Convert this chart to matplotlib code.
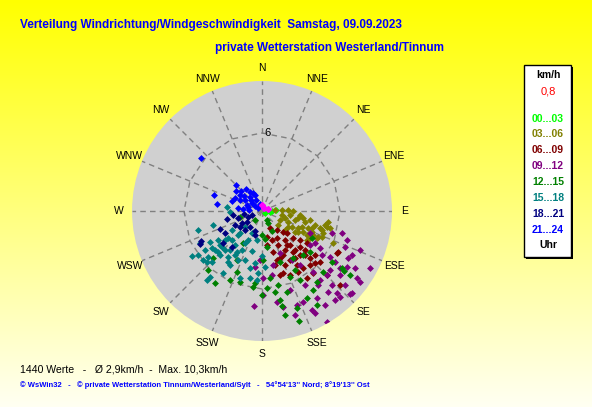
import numpy as np
import matplotlib
matplotlib.use("Agg")
import matplotlib.pyplot as plt

# wind direction (deg, clockwise from N) and speed (km/h), per 3-hour block
dir_00_03 = [80, 88, 86, 120, 95]
spd_00_03 = [0.5, 0.8, 1.1, 0.3, 0.6]

dir_03_06 = [85.6, 87, 87.8, 90, 101, 107, 113, 105, 101, 99.7, 104.3, 111.8, 115.3, 122.5,
             118, 121.6, 110.3, 112.8, 115.2, 114.9, 109.8, 102.5, 99.5, 103.8, 104, 106.3,
             116.1, 119.4, 118.1, 117.1, 116.6, 131.2, 129.6, 113.4, 122.8, 114.3, 100.6,
             96, 104.8, 98.1, 120.3, 107.6, 108.8]
spd_03_06 = [1.0, 1.54, 2.0, 2.4, 1.57, 1.85, 2.17, 2.63, 2.82, 3.2, 3.41, 3.31, 3.06, 3.0,
             2.6, 2.35, 3.77, 4.17, 4.34, 4.75, 4.99, 4.96, 5.15, 5.15, 5.39, 4.65,
             4.71, 4.24, 3.92, 3.54, 1.55, 1.63, 2.29, 5.03, 4.12, 6.0, 3.76,
             2.94, 4.22, 2.18, 3.2, 4.84, 4.06]

dir_06_09 = [154.8, 150.9, 135, 143.7, 142.9, 127.3, 125.4, 134.4, 134.5, 131.3, 134.6, 118.3,
             133.5, 144.3, 147, 159, 165, 171.6, 156.4, 164.3, 146.1, 131, 141.7, 131.3,
             163, 161.3, 140.6, 119.2, 133.5, 169, 144.9, 149.5, 166.5, 135.7,
             141.6, 140.5, 139.8, 139.2, 150.3, 154.5, 154.8, 138.4, 149.5, 156.9, 161, 132.2, 129.7]
spd_06_09 = [1.45, 2.4, 2.3, 3.25, 3.95, 3.68, 4.25, 5.17, 5.7, 5.94, 7.0, 6.6,
             8.3, 5.4, 4.95, 3.87, 3.26, 2.64, 5.4, 5.1, 6.2, 3.16, 1.86, 2.56,
             3.94, 5.0, 6.2, 6.6, 4.0, 2.0, 4.4, 3.5, 4.3, 4.7,
             2.85, 3.39, 3.93, 4.47, 4.34, 3.75, 2.89, 5.56, 5.45, 4.51, 2.36, 4.46, 5.3]

dir_09_12 = [114.6, 121.1, 107.4, 105.4, 108.8, 113.4, 111.7, 116.1, 118.7, 123.4, 121.5, 117.8,
             125.2, 132.3, 137.8, 137.5, 140.8, 146.2, 147.7, 152.5, 149.6, 155.7, 159.6, 162.4,
             153.2, 136.6, 129.4, 124.1, 134.6, 142.9, 140.1, 144.9, 148.5, 156.8, 168.5, 171.1,
             179.3, 170.6, 179.1, 122.5, 126.3, 125.3, 184.8, 167.7, 133.3, 125.9, 182.3, 187.1,
             126.2, 140.6, 131, 139.9, 124.9, 149.8, 160.5, 131.7]
spd_09_12 = [4.06, 4.76, 5.65, 6.38, 6.9, 6.96, 8.1, 7.7, 7.54, 7.83, 8.4, 9.4,
             8.94, 9.37, 8.93, 8.55, 8.04, 8.7, 7.9, 8.84, 9.9, 7.68, 7.7, 8.4,
             8.53, 7.84, 7.76, 6.3, 7.0, 7.14, 6.1, 5.08, 4.4, 3.5, 4.24, 5.0,
             6.46, 7.1, 5.15, 5.3, 5.72, 4.5, 7.3, 7.56, 9.3, 9.3, 3.8, 4.34,
             7.4, 8.85, 6.9, 6.93, 6.85, 6.58, 6.45, 8.55]

dir_12_15 = [226.2, 222.5, 213.1, 197.2, 202, 210.7, 186.8, 180, 174, 152, 180, 176.3,
             168.6, 168.2, 167.5, 160.2, 161.3, 149.7, 147.2, 135, 125.5, 126, 126, 142.2,
             151.2, 157, 160.6, 146.6, 137, 130.5, 167.8, 173.2, 162.8, 152.6, 118.4, 153,
             151, 126.5, 255, 218, 207, 179, 172, 150.8, 170.9, 185.6, 204.9]
spd_12_15 = [5.2, 6.2, 6.6, 5.7, 5.1, 2.9, 5.9, 6.5, 2.2, 1.7, 1.85, 5.9,
             7.0, 7.5, 8.2, 7.9, 8.9, 8.4, 7.2, 6.6, 7.6, 8.4, 6.7, 6.9,
             6.1, 5.5, 4.2, 4.3, 4.6, 4.9, 5.8, 5.2, 6.5, 7.5, 4.4, 1.0,
             0.8, 7.8, 1.75, 0.88, 4.2, 3.8, 2.8, 5.2, 6.3, 5.56, 5.85]

dir_15_18 = [254, 237.3, 235.5, 229.6, 224.4, 227.2, 218.6, 218.2, 212.2, 216.5, 223.5, 228,
             226, 225, 208, 193.7, 187.7, 190, 177, 206, 211, 231.5, 198.4, 226.7,
             204.4, 189.8, 236.6, 239.2, 180, 242.7, 230.3, 183.7, 184, 276.5, 268, 253.5,
             223.7, 230.3, 210.6, 218.5, 231, 232, 219.4, 211.5, 207.1, 199.1, 227, 233.5,
             205.8, 225, 191.9, 213.7, 235.6, 237.7]
spd_15_18 = [3.9, 6.4, 6.0, 5.5, 5.5, 5.8, 6.8, 6.5, 5.6, 4.4, 4.1, 4.1,
             3.2, 2.4, 2.8, 3.2, 4.0, 5.2, 4.3, 4.2, 3.7, 3.3, 5.4, 1.8,
             1.9, 2.3, 4.1, 4.7, 3.5, 5.4, 5.9, 4.8, 5.3, 2.7, 2.5, 5.1,
             4.7, 4.7, 4.8, 3.3, 4.16, 3.62, 3.88, 3.97, 3.37, 3.99, 4.63, 4.78,
             2.48, 2.61, 4.48, 4.71, 5.31, 2.73]

dir_18_21 = [242, 244, 246, 231, 220, 243, 239, 200, 234, 217, 257, 239,
             196, 234, 262, 247, 260, 248, 254, 222]
spd_18_21 = [5.4, 5.2, 3.5, 3.9, 3.6, 2.3, 1.8, 1.6, 1.4, 1.5, 2.8, 3.3,
             1.9, 2.1, 2.25, 1.2, 1.4, 0.8, 1.9, 1.95]

dir_21_24 = [311, 315, 308, 288, 279, 288, 314, 324, 310, 319, 309, 306,
             292, 297, 331, 307, 274, 277, 333, 276, 344, 315,
             302.9, 327.7, 306, 336.4, 295.7, 286]
spd_21_24 = [6.2, 2.8, 2.5, 3.9, 3.5, 2.4, 2.2, 2.1, 1.8, 1.4, 1.0, 0.66,
             1.25, 1.9, 0.96, 0.4, 1.0, 1.86, 1.55, 1.47, 0.56, 1.2,
             1.56, 1.73, 2.09, 1.34, 2.3, 1.12]

dir_now = [358, 75, 30]
spd_now = [0.45, 0.45, 0.3]

blocks = ["00...03", "03...06", "06...09", "09...12", "12...15", "15...18", "18...21", "21...24"]
colors = ["#00ff00", "#808000", "#800000", "#800080", "#008000", "#008080", "#000080", "#0000ff"]
dirs = [dir_00_03, dir_03_06, dir_06_09, dir_09_12, dir_12_15, dir_15_18, dir_18_21, dir_21_24]
spds = [spd_00_03, spd_03_06, spd_06_09, spd_09_12, spd_12_15, spd_15_18, spd_18_21, spd_21_24]

compass = ["N", "NNE", "NE", "ENE", "E", "ESE", "SE", "SSE",
           "S", "SSW", "SW", "WSW", "W", "WNW", "NW", "NNW"]
r_max = 10
ring = 6

title1 = "Verteilung Windrichtung/Windgeschwindigkeit  Samstag, 09.09.2023"
title2 = "private Wetterstation Westerland/Tinnum"
stats = "1440 Werte   -   \u00d8 2,9km/h  -  Max. 10,3km/h"
footer = ("\u00a9 WsWin32   -   \u00a9 private Wetterstation Tinnum/Westerland/Sylt   -   "
          "54\u00b054'13'' Nord; 8\u00b019'13'' Ost")

plt.rcParams["font.family"] = ["Liberation Sans", "DejaVu Sans"]

fig = plt.figure(figsize=(5.92, 4.07), dpi=100)

# yellow gradient background
bg = fig.add_axes([0, 0, 1, 1], zorder=0)
grad = np.zeros((256, 2, 3))
grad[:, :, 0] = 1.0
grad[:, :, 1] = 1.0
grad[:, :, 2] = np.linspace(0, 0.95, 256)[:, None]
bg.imshow(grad, aspect="auto", extent=[0, 1, 0, 1], origin="upper")
bg.set_axis_off()

ax = fig.add_axes([0.2230, 0.1622, 0.4392, 0.6388], projection="polar", zorder=1)
ax.set_theta_zero_location("N")
ax.set_theta_direction(-1)
ax.set_ylim(0, r_max)
ax.set_facecolor("#d0d0d0")
ax.grid(False)
ax.set_xticks([])
ax.set_yticks([])
ax.spines["polar"].set_visible(False)

th16 = np.deg2rad(np.arange(16) * 22.5)
for t in th16:
    ax.plot([t, t], [0, r_max], color="#808080", lw=1, ls=(0, (4, 3)), zorder=2)
ax.plot(np.append(th16, th16[0]), [ring] * 17, color="#808080", lw=1, ls=(0, (4, 3)), zorder=2)
ax.text(np.deg2rad(4), ring, "6", fontsize=8, ha="center", va="center", zorder=3)

for lab, t in zip(compass, th16):
    ax.text(t, 11.0, lab, fontsize=7.5, ha="center", va="center", clip_on=False)

for d, s, c in zip(dirs, spds, colors):
    ax.plot(np.deg2rad(d), s, ls="none", marker="D", ms=3.0, mec=c, mfc=c, mew=0.5, zorder=4)
ax.plot(np.deg2rad(dir_now), spd_now, ls="none", marker="D", ms=3.0, color="#ff00ff", zorder=5)

fig.text(20 / 592, 1 - 25 / 407, title1, fontsize=8.5, fontweight="bold", color="#0000ff",
         va="center", ha="left")
fig.text(215 / 592, 1 - 48 / 407, title2, fontsize=8.5, fontweight="bold", color="#0000ff",
         va="center", ha="left")

# legend box with shadow
sh = plt.Rectangle((526 / 592, 1 - 259 / 407), 47 / 592, 192 / 407, transform=fig.transFigure,
                   facecolor="black", edgecolor="none", zorder=2)
box = plt.Rectangle((524 / 592, 1 - 257 / 407), 47 / 592, 192 / 407, transform=fig.transFigure,
                    facecolor="white", edgecolor="black", lw=1, zorder=3)
fig.patches.extend([sh, box])
lx = 548 / 592
fig.text(lx, 1 - 75 / 407, "km/h", fontsize=7.5, fontweight="bold", ha="center", va="center", zorder=4)
fig.text(lx, 1 - 91.5 / 407, "0,8", fontsize=8, color="#ff0000", ha="center", va="center", zorder=4)
for i, (lab, c) in enumerate(zip(blocks, colors)):
    fig.text(lx, 1 - (118.5 + i * 15.9) / 407, lab, fontsize=7.5, fontweight="bold", color=c,
             ha="center", va="center", zorder=4)
fig.text(lx, 1 - 245.5 / 407, "Uhr", fontsize=7.5, fontweight="bold", ha="center", va="center", zorder=4)

fig.text(20 / 592, 1 - 369 / 407, stats, fontsize=7.6, ha="left", va="center")
fig.text(20 / 592, 1 - 385.5 / 407, footer, fontsize=5.5, fontweight="bold", color="#0000ff",
         ha="left", va="center")

fig.savefig("out.png", dpi=100)
